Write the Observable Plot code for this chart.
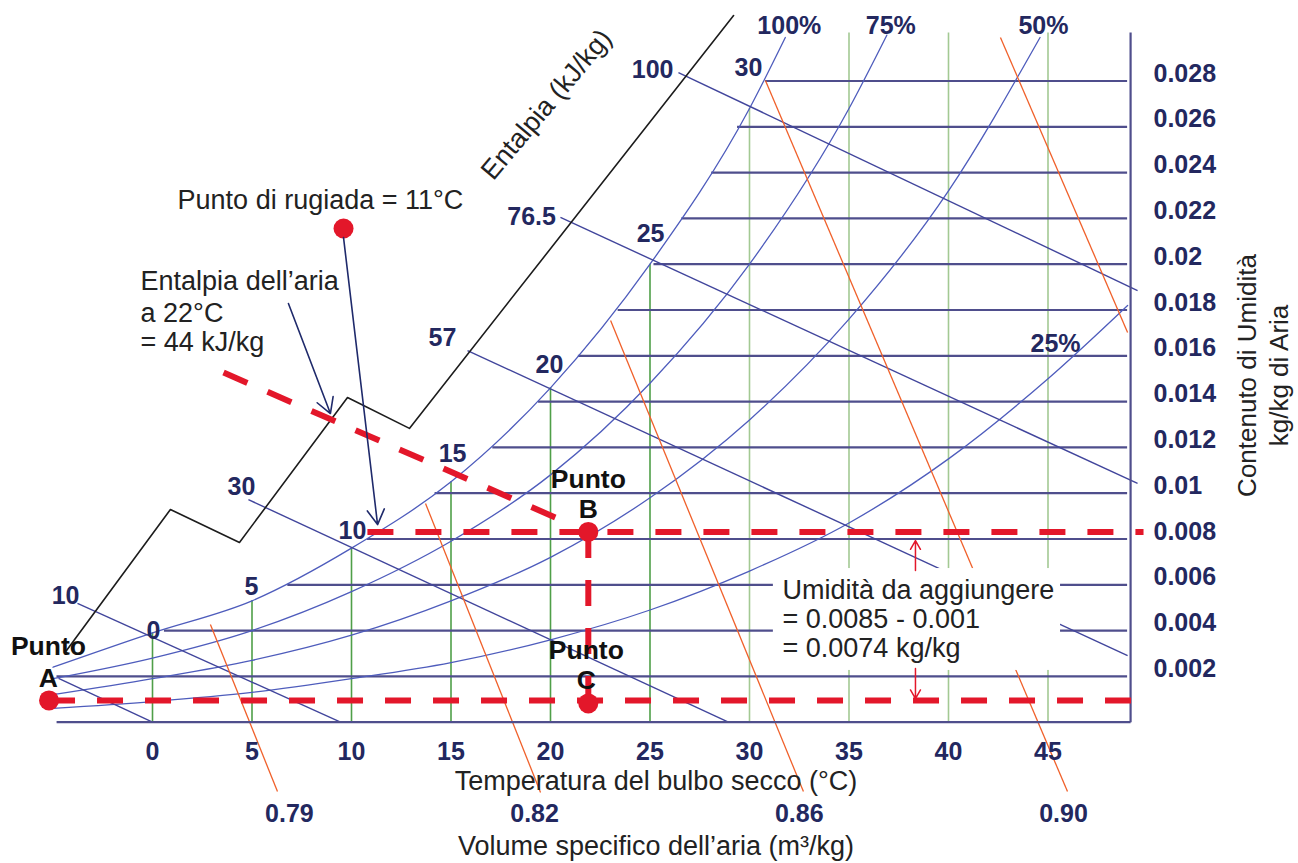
<!DOCTYPE html>
<html><head><meta charset="utf-8">
<script src="https://cdn.jsdelivr.net/npm/d3@7"></script>
<script src="https://cdn.jsdelivr.net/npm/@observablehq/plot@0.6"></script>
<style>html,body{margin:0;padding:0;background:#fff;} #chart svg{display:block;}</style>
</head><body><div id="chart"></div>
<script>
// ---------- data ----------
const tempTicks = [0, 5, 10, 15, 20, 25, 30, 35, 40, 45];
const humidityTicks = [0.002, 0.004, 0.006, 0.008, 0.010, 0.012, 0.014, 0.016, 0.018, 0.020, 0.022, 0.024, 0.026, 0.028];
const humidityTickLabels = ["0.002", "0.004", "0.006", "0.008", "0.01", "0.012", "0.014", "0.016", "0.018", "0.02", "0.022", "0.024", "0.026", "0.028"];

// relative humidity curves (temperature °C, humidity kg/kg)
const rhLabels = ["100%", "75%", "50%", "25%"];
const rh100T = [-5, 0, 5, 10, 15, 20, 25, 30, 31.8];
const rh100W = [0.0024, 0.0039, 0.0053, 0.0076, 0.0105, 0.0146, 0.0200, 0.0268, 0.0299];
const rh75T = [-5, 0, 5, 10, 15, 20, 25, 30, 35, 36.9];
const rh75W = [0.0019, 0.0028, 0.0040, 0.0057, 0.0079, 0.0108, 0.0148, 0.0200, 0.0268, 0.0300];
const rh50T = [-5, 0, 5, 10, 15, 20, 25, 30, 35, 40, 44.6];
const rh50W = [0.0012, 0.0019, 0.0027, 0.0038, 0.0053, 0.0072, 0.0098, 0.0132, 0.0176, 0.0232, 0.0299];
const rh25T = [-5, 0, 5, 10, 15, 20, 25, 30, 35, 40, 45, 49];
const rh25W = [0.0006, 0.0009, 0.0013, 0.0019, 0.0026, 0.0036, 0.0049, 0.0066, 0.0087, 0.0115, 0.0150, 0.0182];

// dry-bulb verticals: top humidity of each
const dryBulbTopW = [0.0039, 0.0053, 0.0076, 0.0105, 0.0146, 0.0200, 0.0268, 0.0301, 0.0301, 0.0301];
// horizontal humidity lines: start temperature (on saturation) and common end
const humidityLineStartT = [-4.8, 0.6, 6.8, 10.8, 14.2, 17.1, 19.4, 21.4, 23.4, 25.2, 26.6, 28.1, 29.4, 30.8];
const humidityLineEndT = 49.0;

// enthalpy lines (kJ/kg)
const enthalpyLabels = ["", "10", "30", "57", "76.5", "100"];
const enthalpyT1 = [-4.72, -3.77, 4.82, 15.83, 20.5, 26.43];
const enthalpyW1 = [0.00191, 0.00519, 0.00972, 0.01623, 0.02204, 0.02837];
const enthalpyT2 = [0, 9.45, 28.94, 49.0, 49.5, 49.5];
const enthalpyW2 = [0, 0, 0, 0.00291, 0.01043, 0.01885];

// specific volume lines (m3/kg)
const volumeLabels = ["0.79", "0.82", "0.86", "0.90", ""];
const volumeT1 = [2.91, 13.72, 23.02, 30.80, 42.61];
const volumeW1 = [0.00427, 0.00955, 0.01754, 0.02802, 0.0299];
const volumeT2 = [6.28, 19.5, 32.71, 45.98, 49.0];
const volumeW2 = [-0.00303, -0.00307, -0.00303, -0.00303, 0.01702];

// enthalpy scale (zig-zag) line
const scaleT = [-4.32, 0.90, 4.37, 9.80, 12.91, 29.20];
const scaleW = [0.00313, 0.00929, 0.00785, 0.01418, 0.01283, 0.03086];

// process points
const pointNames = ["A", "B", "C", "rugiada"];
const pointT = [-5.2, 21.9, 21.9, 9.6];
const pointW = [0.00095, 0.00831, 0.00082, 0.02156];
// enthalpy 44 kJ/kg line through B
const enth44T = [3.57, 20.35];
const enth44W = [0.01527, 0.00890];

// ---------- build tables ----------
const zipCurve = (name, T, W) => T.map((t, i) => ({curve: name, T: t, W: W[i]}));
const rhData = [
  ...zipCurve("100%", rh100T, rh100W),
  ...zipCurve("75%", rh75T, rh75W),
  ...zipCurve("50%", rh50T, rh50W),
  ...zipCurve("25%", rh25T, rh25W)
];
const dryBulb = tempTicks.map((t, i) => ({T: t, top: dryBulbTopW[i]}));
const hLines = humidityTicks.map((w, i) => ({W: w, x1: humidityLineStartT[i], x2: humidityLineEndT}));
const enthalpy = enthalpyLabels.map((l, i) => ({label: l, x1: enthalpyT1[i], y1: enthalpyW1[i], x2: enthalpyT2[i], y2: enthalpyW2[i]}));
const volume = volumeLabels.map((l, i) => ({label: l, x1: volumeT1[i], y1: volumeW1[i], x2: volumeT2[i], y2: volumeW2[i]}));
const scaleLine = scaleT.map((t, i) => ({T: t, W: scaleW[i]}));
const pts = Object.fromEntries(pointNames.map((n, i) => [n, {T: pointT[i], W: pointW[i]}]));

const A = pts.A, B = pts.B, C = pts.C, R = pts.rugiada;

const navy = "#23285f";
const red = "#e3172a";
const FONT = "'Liberation Sans', Arial, Helvetica, sans-serif";
const dash = "26,22";

// label tables (positions in data units)
const satLabels = [
  {t: "0", T: 0.05, W: 0.0040}, {t: "5", T: 4.97, W: 0.0059}, {t: "10", T: 10.05, W: 0.00837},
  {t: "15", T: 15.08, W: 0.01173}, {t: "20", T: 19.95, W: 0.01558}, {t: "25", T: 25.03, W: 0.02134},
  {t: "30", T: 29.95, W: 0.02855}
];
const rhLabelPos = [
  {t: rhLabels[0], T: 32.0, W: 0.0304}, {t: rhLabels[1], T: 37.1, W: 0.0304},
  {t: rhLabels[2], T: 44.77, W: 0.0304}, {t: rhLabels[3], T: 45.38, W: 0.01653}
];
const enthLabelPos = [
  {t: enthalpyLabels[1], T: -4.37, W: 0.00549}, {t: enthalpyLabels[2], T: 4.47, W: 0.01025},
  {t: enthalpyLabels[3], T: 14.57, W: 0.01676}, {t: enthalpyLabels[4], T: 19.05, W: 0.02204},
  {t: enthalpyLabels[5], T: 25.13, W: 0.02846}
];
const volLabelPos = [
  {t: volumeLabels[0], T: 6.88}, {t: volumeLabels[1], T: 19.2},
  {t: volumeLabels[2], T: 32.5}, {t: volumeLabels[3], T: 45.78}
].map(d => ({...d, W: -0.00399}));

const chart = Plot.plot({
  width: 1298, height: 863,
  marginLeft: 52.5, marginRight: 151, marginTop: 34.7, marginBottom: 141.3,
  x: {domain: [-5, 50]},
  y: {domain: [0, 0.03]},
  style: {fontFamily: FONT, background: "#fff", overflow: "visible"},
  marks: [
    // dry bulb verticals
    Plot.ruleX(dryBulb, {x: "T", y1: 0, y2: "top", stroke: d => d.T <= 25 ? "dark" : "light", strokeWidth: 1.6}),
    // humidity horizontals
    Plot.ruleY(hLines, {y: "W", x1: "x1", x2: "x2", stroke: "#4f4e8c", strokeWidth: 2.2}),
    // RH curves
    Plot.line(rhData, {x: "T", y: "W", z: "curve", curve: "monotone-x", stroke: "#4e5cbc", strokeWidth: 1.3}),
    // enthalpy lines
    Plot.link(enthalpy, {x1: "x1", y1: "y1", x2: "x2", y2: "y2", stroke: "#41459c", strokeWidth: 1.4}),
    // specific volume lines
    Plot.link(volume, {x1: "x1", y1: "y1", x2: "x2", y2: "y2", stroke: "#f0602a", strokeWidth: 1.3}),
    // enthalpy scale zigzag
    Plot.line(scaleLine, {x: "T", y: "W", stroke: "#1c1c1c", strokeWidth: 1.6}),
    // frame: bottom and right
    Plot.link([{x1: -4.82, y1: 0, x2: 49.15, y2: 0}, {x1: 49.15, y1: 0, x2: 49.15, y2: 0.03012}],
      {x1: "x1", y1: "y1", x2: "x2", y2: "y2", stroke: "#4f4e8c", strokeWidth: 2.2}),
    // white note box
    Plot.rect([{x1: 31.2, x2: 45.63, y1: 0.00226, y2: 0.00671}], {x1: "x1", x2: "x2", y1: "y1", y2: "y2", fill: "#fff"}),
    // red dashed process lines
    Plot.link([
      {x1: 10.8, y1: B.W, x2: 49.8, y2: B.W},
      {x1: A.T, y1: A.W, x2: 49.25, y2: A.W},
      {x1: B.T, y1: B.W, x2: C.T, y2: C.W},
      {x1: enth44T[0], y1: enth44W[0], x2: enth44T[1], y2: enth44W[1]}
    ], {x1: "x1", y1: "y1", x2: "x2", y2: "y2", stroke: red, strokeWidth: 6, strokeDasharray: dash}),
    // red points
    Plot.dot([A, B, C, R], {x: "T", y: "W", r: 10, fill: red, stroke: null}),
    // navy arrows
    Plot.arrow([
      {x1: 6.83, y1: 0.01828, x2: 8.94, y2: 0.01348},
      {x1: R.T, y1: 0.02116, x2: 11.31, y2: 0.00863}
    ], {x1: "x1", y1: "y1", x2: "x2", y2: "y2", stroke: "#1f2a6b", strokeWidth: 1.6, headLength: 16}),
    // red arrows in note
    Plot.arrow([
      {x1: 38.34, y1: 0.00662, x2: 38.34, y2: 0.00793},
      {x1: 38.34, y1: 0.00234, x2: 38.34, y2: 0.00103}
    ], {x1: "x1", y1: "y1", x2: "x2", y2: "y2", stroke: red, strokeWidth: 1.5, headLength: 11}),
    // axes
    Plot.axisX(tempTicks, {anchor: "bottom", tickSize: 0, tickPadding: 20, fontSize: 25, fontWeight: "bold", fill: navy, label: null}),
    Plot.axisY(humidityTicks, {anchor: "right", tickSize: 0, tickPadding: 6, dy: -7.5, fontSize: 25, fontWeight: "bold", fill: navy, label: null,
      tickFormat: d => humidityTickLabels[humidityTicks.indexOf(d)]}),
    // bold navy labels
    Plot.text([...satLabels, ...rhLabelPos, ...enthLabelPos, ...volLabelPos], {x: "T", y: "W", text: "t", fontSize: 25, fontWeight: "bold", fill: navy}),
    // bold black point labels
    Plot.text([
      {t: "Punto", T: 21.9, W: 0.0106}, {t: "B", T: 21.9, W: 0.00929},
      {t: "Punto", T: 21.8, W: 0.00313}, {t: "C", T: 21.8, W: 0.00182},
      {t: "Punto", T: -5.23, W: 0.00331}, {t: "A", T: -5.23, W: 0.00191}
    ], {x: "T", y: "W", text: "t", fontSize: 26.5, fontWeight: "bold", fill: "#111"}),
    // annotation text (left aligned)
    Plot.text([
      {t: "Punto di rugiada = 11°C", T: 1.26, W: 0.02278},
      {t: "Entalpia dell’aria", T: -0.6, W: 0.01924},
      {t: "a 22°C", T: -0.6, W: 0.01785},
      {t: "= 44 kJ/kg", T: -0.6, W: 0.01658},
      {t: "Umidità da aggiungere", T: 31.66, W: 0.00575},
      {t: "= 0.0085 - 0.001", T: 31.66, W: 0.00449},
      {t: "= 0.0074 kg/kg", T: 31.66, W: 0.00322}
    ], {x: "T", y: "W", text: "t", textAnchor: "start", fontSize: 27, fill: "#222"}),
    // axis titles
    Plot.text([
      {t: "Temperatura del bulbo secco (°C)", T: 25.3, W: -0.00259},
      {t: "Volume specifico dell’aria (m³/kg)", T: 25.3, W: -0.00543}
    ], {x: "T", y: "W", text: "t", fontSize: 27, fill: "#222"}),
    Plot.text([
      {t: "Contenuto di Umidità", T: 55.03, W: 0.01514},
      {t: "kg/kg di Aria", T: 56.63, W: 0.01514}
    ], {x: "T", y: "W", text: "t", rotate: -90, fontSize: 26, fill: "#222"}),
    Plot.text([{t: "Entalpia (kJ/kg)", T: 19.8, W: 0.02697}], {x: "T", y: "W", text: "t", rotate: -50, fontSize: 27, fill: "#222"})
  ],
  color: {domain: ["dark", "light"], range: ["#4f9f48", "#a3c993"]}
});
document.getElementById("chart").appendChild(chart);
</script>
</body></html>
